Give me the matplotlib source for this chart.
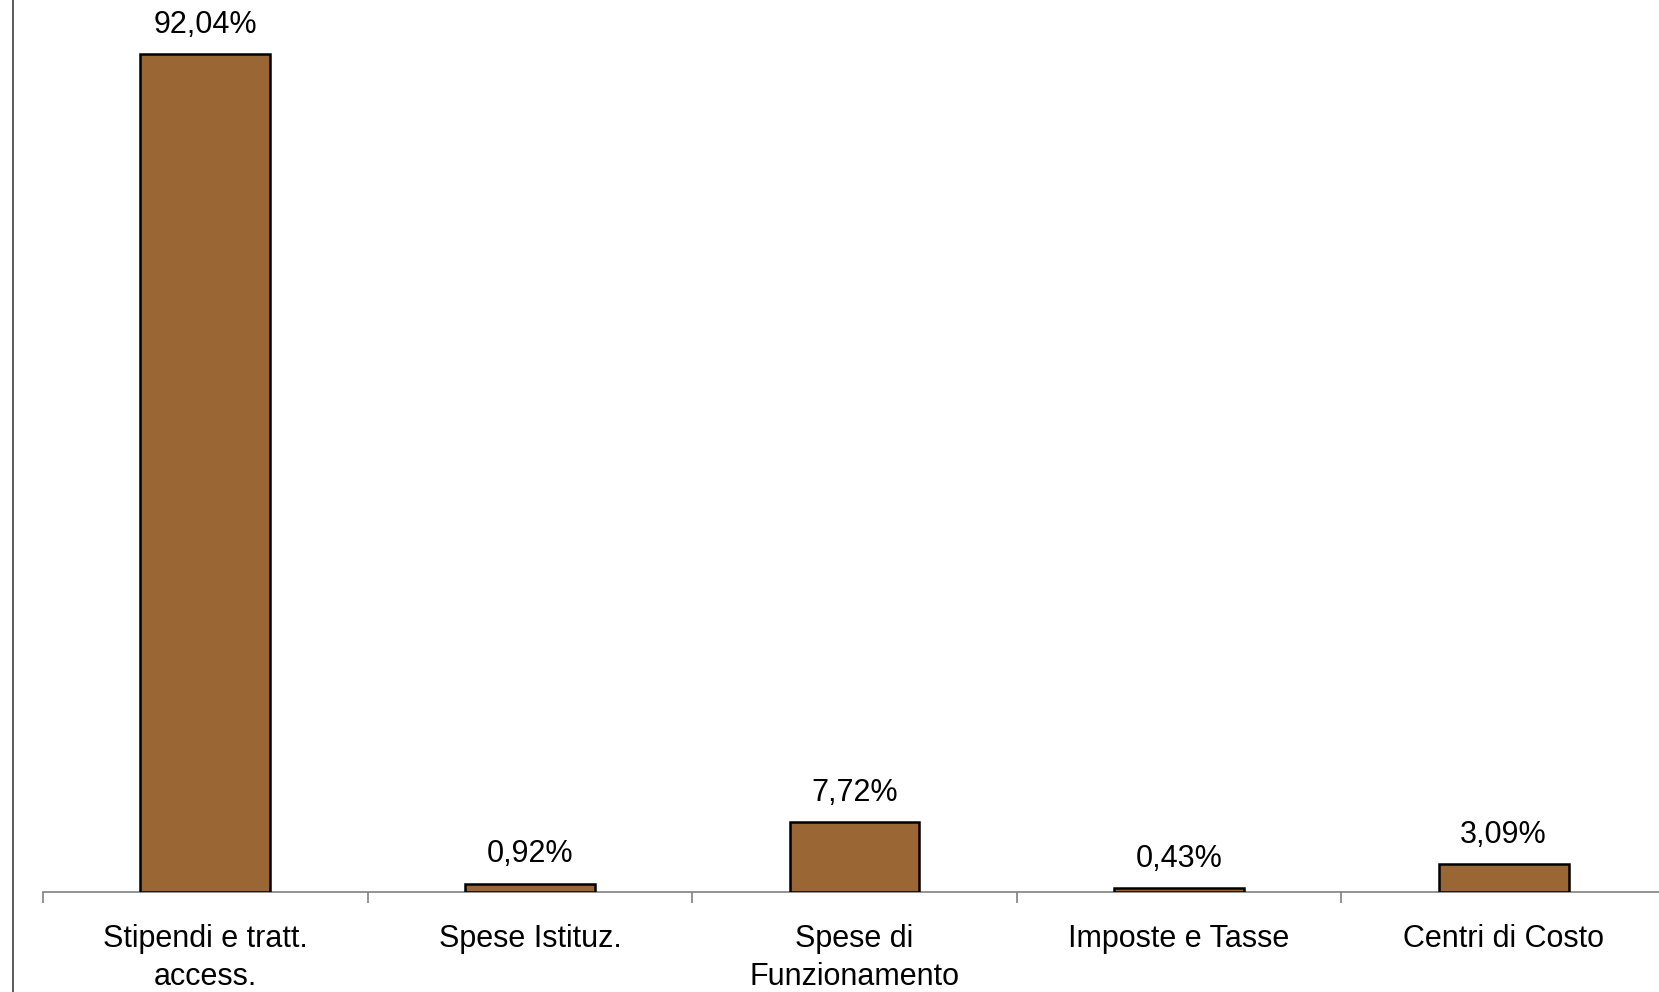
import matplotlib
matplotlib.use("Agg")
import matplotlib.pyplot as plt
from matplotlib.lines import Line2D

categories = ["Stipendi e tratt.\naccess.", "Spese Istituz.", "Spese di\nFunzionamento",
              "Imposte e Tasse", "Centri di Costo"]
values = [92.04, 0.92, 7.72, 0.43, 3.09]
value_labels = ["92,04%", "0,92%", "7,72%", "0,43%", "3,09%"]

plt.rcParams['font.family'] = ['Liberation Sans', 'DejaVu Sans']

W, H = 1659, 992
fig = plt.figure(figsize=(W / 100, H / 100), dpi=100)
fig.patch.set_facecolor('white')

left_px, right_px, base_px = 43, 1666, 892
ax = fig.add_axes([left_px / W, (H - base_px) / H, (right_px - left_px) / W, base_px / H])
ax.set_facecolor('none')

x = list(range(len(categories)))
ax.bar(x, values, width=0.4, color='#9A6633', edgecolor='black', linewidth=1.8, zorder=3)

ax.set_xlim(-0.5, len(categories) - 0.5)
ax.set_ylim(0, 97.95)

for s in ['top', 'right', 'left']:
    ax.spines[s].set_visible(False)
ax.spines['bottom'].set_color('#808080')
ax.spines['bottom'].set_linewidth(1.2)
ax.set_yticks([])

ax.set_xticks([i - 0.5 for i in range(len(categories) + 1)])
ax.set_xticklabels([])
ax.tick_params(axis='x', which='major', length=8, width=1.2, color='#808080', direction='out')
ax.set_xticks(x, minor=True)
ax.set_xticklabels(categories, minor=True, fontsize=22, linespacing=1.35)
ax.tick_params(axis='x', which='minor', length=0, pad=23)

for xi, v, lab in zip(x, values, value_labels):
    ax.annotate(lab, (xi, v), xytext=(0, 21), textcoords='offset points',
                ha='center', va='center', fontsize=22, zorder=4)

fig.add_artist(Line2D([13 / W, 13 / W], [0, 1], color='#404040', linewidth=1.2,
                      transform=fig.transFigure))

fig.savefig("out.png", dpi=100)
